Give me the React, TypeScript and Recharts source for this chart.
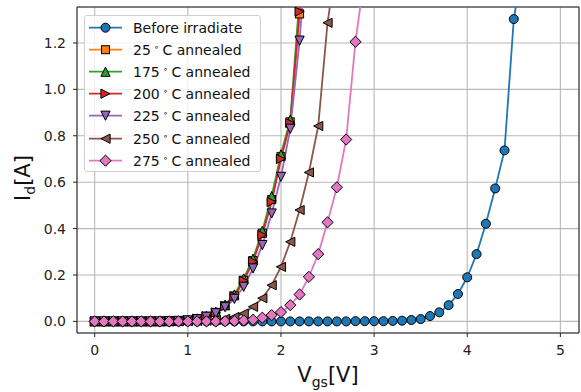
import React from 'react';
import { LineChart, Line, XAxis, YAxis, CartesianGrid, ReferenceArea } from 'recharts';

const VGS = [
  0.0, 0.1, 0.2, 0.3, 0.4, 0.5, 0.6, 0.7, 0.8, 0.9,
  1.0, 1.1, 1.2, 1.3, 1.4, 1.5, 1.6, 1.7, 1.8, 1.9,
  2.0, 2.1, 2.2, 2.3, 2.4, 2.5, 2.6, 2.7, 2.8, 2.9,
  3.0, 3.1, 3.2, 3.3, 3.4, 3.5, 3.6, 3.7, 3.8, 3.9,
  4.0, 4.1, 4.2, 4.3, 4.4, 4.5, 4.6,
];

const BEFORE = [
  0, 0, 0, 0, 0, 0, 0, 0, 0, 0,
  0, 0, 0, 0, 0, 0, 0, 0, 0, 0,
  0, 0, 0, 0, 0, 0, 0, 0, 0.001, 0.001,
  0.001, 0.001, 0.002, 0.003, 0.006, 0.010, 0.023, 0.039, 0.070, 0.118,
  0.19, 0.29, 0.421, 0.573, 0.737, 1.303, 1.55,
];
const A25 = [
  0, 0, 0, 0, 0, 0, 0, 0, 0.001, 0.002,
  0.005, 0.012, 0.022, 0.039, 0.067, 0.110, 0.177, 0.262, 0.38, 0.525,
  0.71, 0.86, 1.325, 1.85,
];
const A175 = [
  0, 0, 0, 0, 0, 0, 0, 0, 0.001, 0.002,
  0.006, 0.013, 0.024, 0.042, 0.072, 0.116, 0.185, 0.27, 0.39, 0.54,
  0.72, 0.87, 1.40,
];
const A200 = [
  0, 0, 0, 0, 0, 0, 0, 0, 0.001, 0.002,
  0.005, 0.012, 0.022, 0.038, 0.066, 0.108, 0.175, 0.258, 0.372, 0.515,
  0.70, 0.855, 1.335, 1.85,
];
const A225 = [
  0, 0, 0, 0, 0, 0, 0, 0, 0.001, 0.002,
  0.004, 0.009, 0.020, 0.035, 0.061, 0.097, 0.149, 0.228, 0.329, 0.465,
  0.623, 0.83, 1.21, 1.75,
];
const A250 = [
  0, 0, 0, 0, 0, 0, 0, 0, 0, 0,
  0.001, 0.002, 0.003, 0.006, 0.011, 0.019, 0.034, 0.063, 0.10, 0.156,
  0.235, 0.343, 0.48, 0.642, 0.842, 1.287, 1.56,
];
const A275 = [
  0, 0, 0, 0, 0, 0, 0, 0, 0, 0,
  0, 0, 0, 0, 0.001, 0.002, 0.004, 0.007, 0.016, 0.027,
  0.040, 0.070, 0.116, 0.192, 0.29, 0.427, 0.578, 0.784, 1.205, 1.5,
];

const X_TICKS = [0, 1, 2, 3, 4, 5];
const Y_TICKS = [0, 0.2, 0.4, 0.6, 0.8, 1.0, 1.2];

const SERIES = [
  { label: 'Before irradiate', temp: '', color: '#1f77b4', marker: 'circle', values: BEFORE },
  { label: '', temp: '25', color: '#ff7f0e', marker: 'square', values: A25 },
  { label: '', temp: '175', color: '#2ca02c', marker: 'up', values: A175 },
  { label: '', temp: '200', color: '#d62728', marker: 'right', values: A200 },
  { label: '', temp: '225', color: '#9467bd', marker: 'down', values: A225 },
  { label: '', temp: '250', color: '#8c564b', marker: 'left', values: A250 },
  { label: '', temp: '275', color: '#e377c2', marker: 'diamond', values: A275 },
];

const toPoints = (values: number[]) => values.map((v, i) => ({ x: VGS[i], y: v }));

const Marker = ({ kind, x, y, color }: any) => {
  const s = 4.6;
  const common = { fill: color, stroke: '#000', strokeWidth: 1 };
  switch (kind) {
    case 'circle':
      return <circle cx={x} cy={y} r={4.5} {...common} />;
    case 'square':
      return <rect x={x - 4} y={y - 4} width={8} height={8} {...common} />;
    case 'up':
      return <polygon points={`${x},${y - s} ${x - s},${y + s} ${x + s},${y + s}`} {...common} />;
    case 'down':
      return <polygon points={`${x},${y + s} ${x - s},${y - s} ${x + s},${y - s}`} {...common} />;
    case 'right':
      return <polygon points={`${x + s},${y} ${x - s},${y - s} ${x - s},${y + s}`} {...common} />;
    case 'left':
      return <polygon points={`${x - s},${y} ${x + s},${y - s} ${x + s},${y + s}`} {...common} />;
    default:
      return <polygon points={`${x},${y - 5.6} ${x + 5.6},${y} ${x},${y + 5.6} ${x - 5.6},${y}`} {...common} />;
  }
};

const makeDot = (kind: string, color: string) => (props: any) => {
  const { cx, cy, index } = props;
  if (cx == null || cy == null) return <g key={`e-${index}`} />;
  return <Marker key={`${kind}-${index}`} kind={kind} x={cx} y={cy} color={color} />;
};

const FONT = '"DejaVu Sans", sans-serif';

const XLabel = () => (
  <text x={328} y={382} textAnchor="middle" fontFamily={FONT} fontSize={21} fill="#111">
    V<tspan fontSize={14} dy={5}>gs</tspan>
    <tspan dy={-5}>[V]</tspan>
  </text>
);

const YLabel = () => (
  <text
    x={0}
    y={0}
    transform="translate(30,178) rotate(-90)"
    textAnchor="middle"
    fontFamily={FONT}
    fontSize={21}
    fill="#111"
  >
    I<tspan fontSize={14} dy={5}>d</tspan>
    <tspan dy={-5}>[A]</tspan>
  </text>
);

const LegendBox = () => (
  <div
    style={{
      position: 'absolute',
      left: 84,
      top: 15,
      width: 177,
      height: 157,
      boxSizing: 'border-box',
      border: '1px solid #d0d0d0',
      borderRadius: 3,
      background: 'rgba(255,255,255,0.8)',
      fontFamily: FONT,
      fontSize: 14,
      color: '#111',
    }}
  >
    {SERIES.map((s, i) => (
      <div key={s.color} style={{ position: 'absolute', left: 0, top: 3 + i * 22.1, height: 22, width: 175 }}>
        <svg width={44} height={22} style={{ position: 'absolute', left: 0, top: 0 }}>
          <line x1={4} y1={8.7} x2={37} y2={8.7} stroke={s.color} strokeWidth={1.8} />
          <Marker kind={s.marker} x={20.5} y={8.7} color={s.color} />
        </svg>
        <span style={{ position: 'absolute', left: 48, top: -1, whiteSpace: 'nowrap', lineHeight: '20px' }}>
          {s.label ? (
            s.label
          ) : (
            <>
              {s.temp}
              <span style={{ fontSize: 9, position: 'relative', top: -5, margin: '0 3px' }}>∘</span>C annealed
            </>
          )}
        </span>
      </div>
    ))}
  </div>
);

export default function App() {
  return (
    <div style={{ position: 'absolute', left: 0, top: 0, width: 581, height: 392, background: '#fff' }}>
      <LineChart width={581} height={392} margin={{ top: 7, right: 2, bottom: 0, left: 0 }}>
        <CartesianGrid stroke="#b8b8b8" strokeWidth={1.1} />
        <XAxis
          type="number"
          dataKey="x"
          domain={[-0.19, 5.2]}
          ticks={X_TICKS}
          allowDataOverflow
          height={59}
          axisLine={false}
          tickLine={{ stroke: '#222' }}
          tickSize={4}
          tickMargin={6}
          tick={{ fontFamily: FONT, fontSize: 14, fill: '#222', dy: 2 }}
          label={<XLabel />}
        />
        <YAxis
          type="number"
          dataKey="y"
          domain={[-0.05, 1.355]}
          ticks={Y_TICKS}
          allowDataOverflow
          width={77}
          axisLine={false}
          tickLine={{ stroke: '#222' }}
          tickSize={4}
          tickMargin={7}
          tickFormatter={(v: number) => v.toFixed(1)}
          tick={{ fontFamily: FONT, fontSize: 14, fill: '#222' }}
          label={<YLabel />}
        />
        <ReferenceArea
          x1={-0.19}
          x2={5.2}
          y1={-0.05}
          y2={1.355}
          fill="none"
          stroke="#222"
          strokeWidth={1}
          ifOverflow="visible"
        />
        {SERIES.map((s) => (
          <Line
            key={s.color}
            data={toPoints(s.values)}
            dataKey="y"
            type="linear"
            stroke={s.color}
            strokeWidth={1.8}
            dot={makeDot(s.marker, s.color)}
            activeDot={false}
            isAnimationActive={false}
          />
        ))}
      </LineChart>
      <LegendBox />
    </div>
  );
}
